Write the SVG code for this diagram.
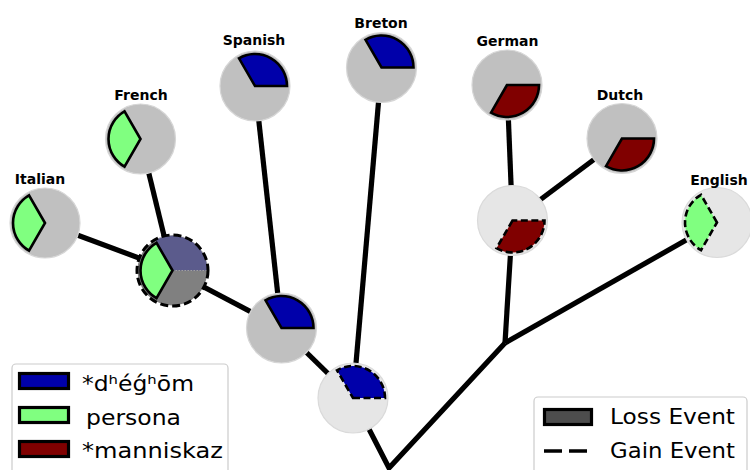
<svg xmlns="http://www.w3.org/2000/svg" xmlns:xlink="http://www.w3.org/1999/xlink" width="750" height="470" viewBox="0 0 750 470">
<style>
.edge{fill:none;stroke:#000;stroke-width:5.2;stroke-linejoin:miter}
.leaf{fill:#c0c0c0;stroke:#d6d6d6;stroke-width:1.2}
.inner{fill:#e6e6e6;stroke:#dadada;stroke-width:1.2}
.lbl{font-family:"DejaVu Sans",sans-serif;font-weight:bold;font-size:14px;text-anchor:middle;fill:#000}
.blue{fill:#0000aa;stroke:#000;stroke-width:2.6;stroke-linejoin:miter}
.green{fill:#80ff80;stroke:#000;stroke-width:2.6;stroke-linejoin:miter}
.red{fill:#800000;stroke:#000;stroke-width:2.6;stroke-linejoin:miter}
.gain{stroke-dasharray:7 3.5}
.leg{font-family:"DejaVu Sans",sans-serif;font-size:22px;fill:#000}
.legbox{fill:#fff;fill-opacity:0.85;stroke:#cccccc;stroke-width:1.2}
.patch{stroke:#000;stroke-width:3.2}
</style>
<defs>
<path id="wB" d="M0,0 L32,0 A32,32 0 0 0 -16,-27.71 Z"/>
<path id="wG" d="M0,0 L-16,-27.71 A32,32 0 0 0 -16,27.71 Z"/>
<path id="wR" d="M0,0 L-16,27.71 A32,32 0 0 0 32,0 Z"/>
</defs>
<g id="connectors">
<line class="edge" x1="45" y1="223" x2="172.5" y2="270.5"/>
<line class="edge" x1="140.5" y1="139" x2="172.5" y2="270.5"/>
<line class="edge" x1="172.5" y1="270.5" x2="281.5" y2="328"/>
<line class="edge" x1="255" y1="86" x2="281.5" y2="328"/>
<line class="edge" x1="281.5" y1="328" x2="353" y2="398"/>
<line class="edge" x1="381.5" y1="67.5" x2="353" y2="398"/>
<polyline class="edge" points="353,398 389,468 505,343"/>
<line class="edge" x1="505" y1="343" x2="512.5" y2="220.5"/>
<line class="edge" x1="505" y1="343" x2="717" y2="222.5"/>
<line class="edge" x1="512.5" y1="220.5" x2="507" y2="85"/>
<line class="edge" x1="512.5" y1="220.5" x2="622" y2="138.5"/>
</g>
<g id="node-italian">
<circle class="leaf" cx="45" cy="223" r="35"/>
<use href="#wG" x="45" y="223" class="green"/>
<text class="lbl" x="40" y="184">Italian</text>
</g>
<g id="node-french">
<circle class="leaf" cx="140.5" cy="139" r="35"/>
<use href="#wG" x="140.5" y="139" class="green"/>
<text class="lbl" x="141" y="100">French</text>
</g>
<g id="node-spanish">
<circle class="leaf" cx="255" cy="86" r="35"/>
<use href="#wB" x="255" y="86" class="blue"/>
<text class="lbl" x="254" y="45">Spanish</text>
</g>
<g id="node-breton">
<circle class="leaf" cx="381.5" cy="67.5" r="35"/>
<use href="#wB" x="381.5" y="67.5" class="blue"/>
<text class="lbl" x="381" y="27.5">Breton</text>
</g>
<g id="node-german">
<circle class="leaf" cx="507" cy="85" r="35"/>
<use href="#wR" x="507" y="85" class="red"/>
<text class="lbl" x="507.5" y="45.5">German</text>
</g>
<g id="node-dutch">
<circle class="leaf" cx="622" cy="138.5" r="35"/>
<use href="#wR" x="622" y="138.5" class="red"/>
<text class="lbl" x="620" y="100">Dutch</text>
</g>
<g id="node-english">
<circle class="inner" cx="717" cy="222.5" r="35"/>
<use href="#wG" x="717" y="222.5" class="green gain"/>
<text class="lbl" x="719" y="185">English</text>
</g>
<g id="node-romance">
<circle cx="172.5" cy="270.5" r="35" fill="#808080"/>
<path d="M172.5,270.5 L207.5,270.5 A35,35 0 0 0 155,240.19 Z" fill="#5b5b8c" stroke="#a0a0a0" stroke-width="1" stroke-dasharray="1.5 1.5"/>
<use href="#wG" x="172.5" y="270.5" class="green"/>
<circle cx="172.5" cy="270.5" r="35.5" fill="none" stroke="#000" stroke-width="3" stroke-dasharray="8 4"/>
</g>
<g id="node-ibero">
<circle class="leaf" cx="281.5" cy="328" r="35"/>
<use href="#wB" x="281.5" y="328" class="blue"/>
</g>
<g id="node-italoceltic">
<circle class="inner" cx="353" cy="398" r="35"/>
<use href="#wB" x="353" y="398" class="blue gain"/>
</g>
<g id="node-germanic">
<circle class="inner" cx="512.5" cy="220.5" r="35"/>
<use href="#wR" x="512.5" y="220.5" class="red gain"/>
</g>
<g id="legend-features">
<rect class="legbox" x="12" y="364" width="216" height="120" rx="4"/>
<rect class="patch" x="19.5" y="373.5" width="49" height="15" fill="#0000aa"/>
<rect class="patch" x="19.5" y="407.5" width="49" height="15" fill="#80ff80"/>
<rect class="patch" x="19.5" y="441.5" width="49" height="15" fill="#800000"/>
<text class="leg" x="82" y="391" textLength="112" lengthAdjust="spacingAndGlyphs">*dʰéǵʰōm</text>
<text class="leg" x="86" y="425" textLength="95" lengthAdjust="spacingAndGlyphs">persona</text>
<text class="leg" x="82" y="458" textLength="141" lengthAdjust="spacingAndGlyphs">*manniskaz</text>
</g>
<g id="legend-events">
<rect class="legbox" x="534" y="397" width="213" height="90" rx="4"/>
<rect class="patch" x="544.5" y="409.5" width="47" height="15" fill="#4d4d4d"/>
<line x1="544" y1="451" x2="592" y2="451" stroke="#000" stroke-width="3.5" stroke-dasharray="18 7"/>
<text class="leg" x="610" y="424" textLength="125" lengthAdjust="spacingAndGlyphs">Loss Event</text>
<text class="leg" x="610" y="458" textLength="125" lengthAdjust="spacingAndGlyphs">Gain Event</text>
</g>
</svg>
